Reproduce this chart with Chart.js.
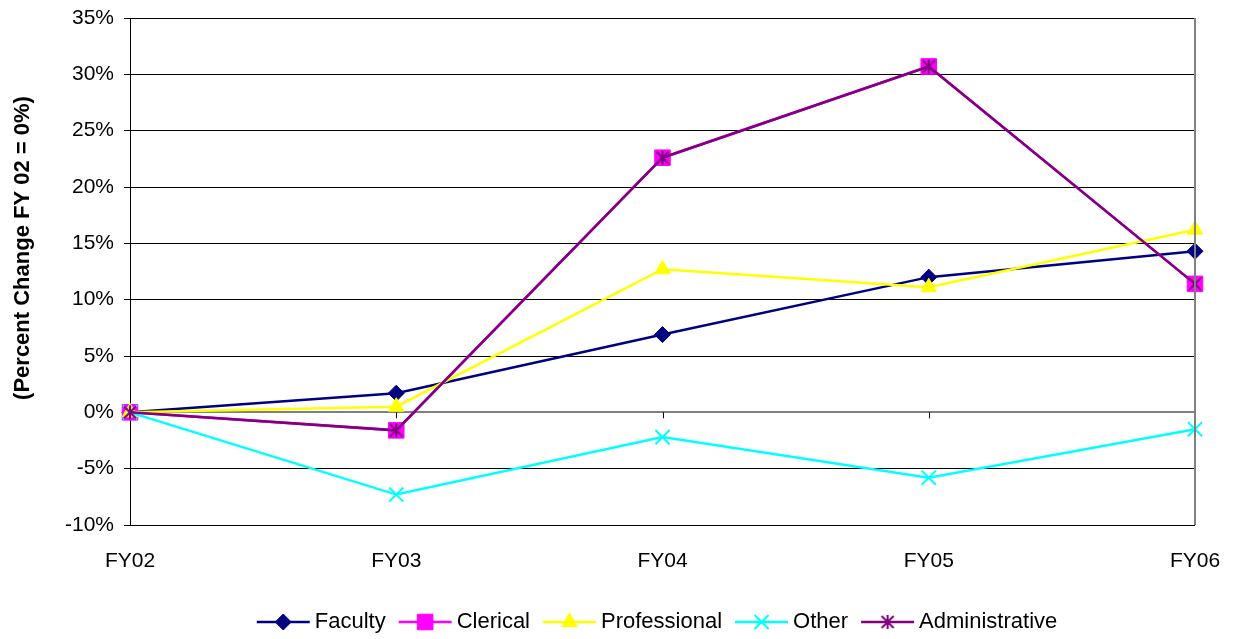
<!DOCTYPE html>
<html>
<head>
<meta charset="utf-8">
<script src="https://cdn.jsdelivr.net/npm/chart.js@4.4.1/dist/chart.umd.min.js"></script>
<style>
  html, body { margin: 0; padding: 0; background: #fff; }
  #wrap { width: 1236px; height: 639px; }
</style>
</head>
<body>
<div id="wrap"><canvas id="staff"></canvas></div>
<script>
// fiscal years
var years = ['FY02', 'FY03', 'FY04', 'FY05', 'FY06'];

// percent change since FY02
var faculty        = [0, 1.7, 6.9, 12.0, 14.3];
var clerical       = [0, -1.6, 22.6, 30.7, 11.4];
var professional   = [0, 0.5, 12.7, 11.1, 16.2];
var other          = [0, -7.3, -2.2, -5.8, -1.5];
var administrative = [0, -1.6, 22.6, 30.7, 11.4];

var yTicks = [-10, -5, 0, 5, 10, 15, 20, 25, 30, 35];

var FONT = 'Arial, "Liberation Sans", sans-serif';

// excel style star: an X with a vertical bar
function starMark(color) {
  var cv = document.createElement('canvas');
  cv.width = 16; cv.height = 16;
  var g = cv.getContext('2d');
  g.strokeStyle = color;
  g.lineWidth = 2;
  g.beginPath();
  g.moveTo(2, 2); g.lineTo(14, 14);
  g.moveTo(14, 2); g.lineTo(2, 14);
  g.moveTo(8, 1); g.lineTo(8, 15);
  g.stroke();
  return cv;
}

function series(label, data, color, style, radius, order) {
  return {
    label: label,
    data: data,
    borderColor: color,
    backgroundColor: color,
    pointBackgroundColor: color,
    pointBorderColor: color,
    pointStyle: style,
    pointRadius: radius,
    pointHoverRadius: radius,
    pointBorderWidth: style == 'crossRot' ? 2 : 1,
    borderWidth: 2.5,
    tension: 0,
    order: order
  };
}

// tick marks on the zero line, right border, axis title and the line+marker legend
var extras = {
  id: 'extras',
  afterDatasetsDraw: function(chart) {
    var c = chart.ctx, area = chart.chartArea;
    var x = chart.scales.x, y = chart.scales.y;
    var y0 = y.getPixelForValue(0);
    c.save();
    c.strokeStyle = '#000';
    c.lineWidth = 1;
    for (var i = 1; i < years.length; i++) {
      var px = Math.round(x.getPixelForValue(i)) + 0.5;
      c.beginPath();
      c.moveTo(px, y0);
      c.lineTo(px, y0 + 6);
      c.stroke();
    }
    c.strokeStyle = '#808080';
    c.lineWidth = 2;
    c.beginPath();
    c.moveTo(area.right, area.top);
    c.lineTo(area.right, area.bottom);
    c.stroke();
    c.restore();
  },
  afterDraw: function(chart) {
    var c = chart.ctx;
    var sets = chart.data.datasets;
    c.save();
    // y axis title
    c.translate(23, 248);
    c.rotate(-Math.PI / 2);
    c.font = 'bold 22px ' + FONT;
    c.fillStyle = '#000';
    c.textAlign = 'center';
    c.textBaseline = 'middle';
    c.fillText('(Percent Change FY 02 = 0%)', 0, 0);
    c.restore();

    c.save();
    c.font = '22px ' + FONT;
    var lineLen = 53, gap = 5, space = 13;
    var total = 0;
    for (var i = 0; i < sets.length; i++) {
      total += lineLen + gap + c.measureText(sets[i].label).width;
      if (i < sets.length - 1) total += space;
    }
    var x = 657 - total / 2, yy = 622;
    for (var i = 0; i < sets.length; i++) {
      var d = sets[i];
      c.strokeStyle = d.borderColor;
      c.lineWidth = 2.5;
      c.beginPath();
      c.moveTo(x, yy);
      c.lineTo(x + lineLen, yy);
      c.stroke();
      c.fillStyle = d.pointBackgroundColor;
      c.strokeStyle = d.pointBorderColor;
      c.lineWidth = d.pointBorderWidth;
      Chart.helpers.drawPoint(c, {pointStyle: d.pointStyle, radius: d.pointRadius, rotation: 0, borderWidth: d.pointBorderWidth}, x + lineLen / 2, yy);
      c.fillStyle = '#000';
      c.textBaseline = 'middle';
      c.textAlign = 'left';
      c.fillText(d.label, x + lineLen + gap, yy);
      x += lineLen + gap + c.measureText(d.label).width + space;
    }
    c.restore();
  }
};

var chart = new Chart(document.getElementById('staff'), {
  type: 'line',
  data: {
    labels: years,
    datasets: [
      series('Faculty', faculty, '#000080', 'rectRot', 8, 5),
      series('Clerical', clerical, '#FF00FF', 'rect', 11, 4),
      series('Professional', professional, '#FFFF00', 'triangle', 9, 3),
      series('Other', other, '#00FFFF', 'crossRot', 10, 2),
      series('Administrative', administrative, '#800080', starMark('#800080'), 8, 1)
    ]
  },
  options: {
    responsive: true,
    maintainAspectRatio: false,
    animation: false,
    layout: { padding: { top: 18, right: 41, bottom: 64, left: 0 } },
    plugins: {
      legend: { display: false },
      tooltip: { enabled: false }
    },
    scales: {
      x: {
        offset: false,
        grid: { display: false },
        border: { display: false },
        ticks: { color: '#000', font: { family: FONT, size: 21 }, padding: 16, maxRotation: 0 },
        afterFit: function(s) { s.height = 50; s.paddingLeft = 0; s.paddingRight = 0; }
      },
      y: {
        min: -10,
        max: 35,
        afterBuildTicks: function(s) { s.ticks = yTicks.map(function(v) { return {value: v}; }); },
        afterFit: function(s) { s.width = 130; s.paddingTop = 0; s.paddingBottom = 0; },
        grid: {
          color: function(ctx) { return ctx.tick && ctx.tick.value === 0 ? '#808080' : '#000'; },
          lineWidth: function(ctx) { return ctx.tick && ctx.tick.value === 0 ? 2 : 1; },
          tickColor: '#000',
          tickLength: 6
        },
        border: { color: '#000', width: 1 },
        ticks: {
          color: '#000',
          padding: 10,
          font: { family: FONT, size: 21 },
          callback: function(v) { return v + '%'; }
        },
        title: { display: false }
      }
    }
  },
  plugins: [extras]
});
</script>
</body>
</html>
